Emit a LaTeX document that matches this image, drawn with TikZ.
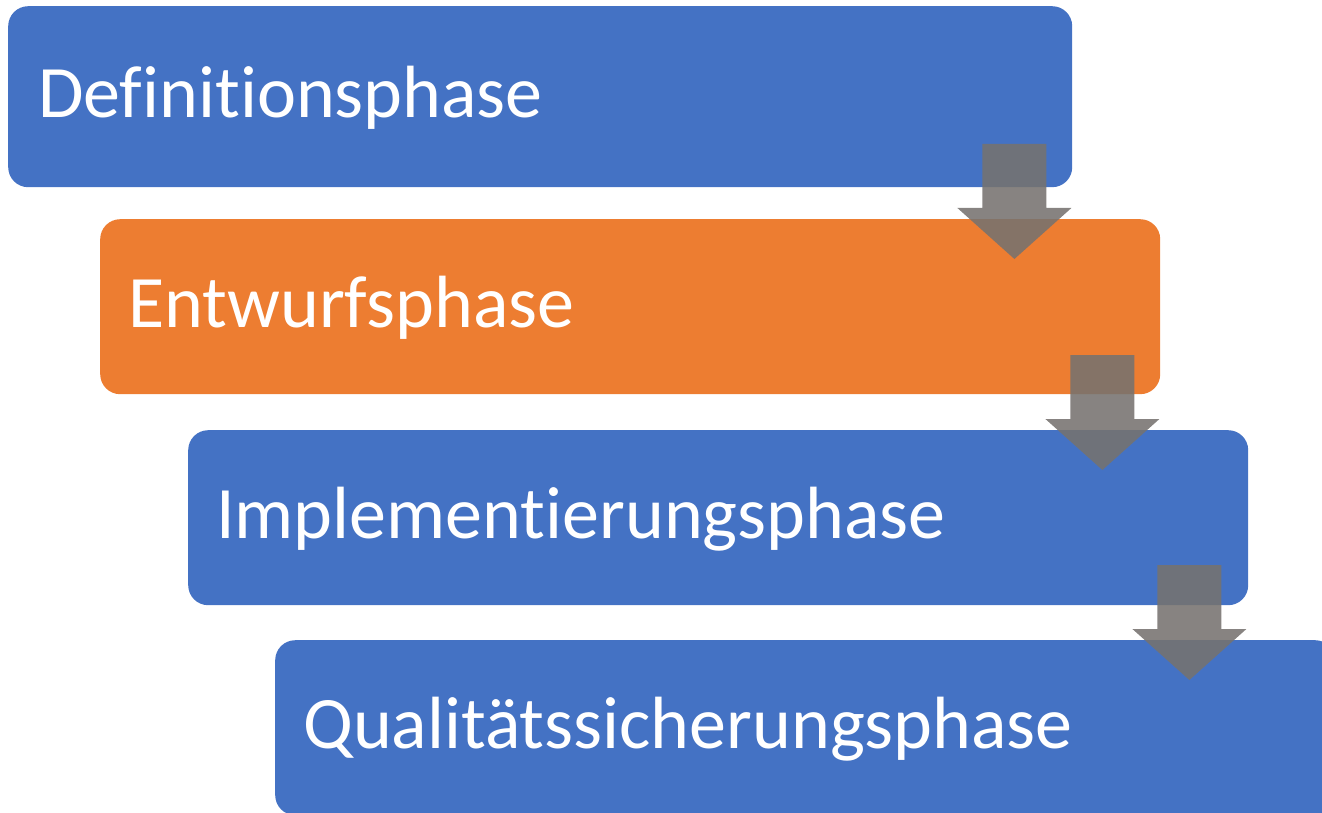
\documentclass[tikz,border=0pt]{standalone}
\usepackage{fontspec}
\setmainfont{Carlito}[Ligatures={NoCommon,NoRare,NoContextual}]
\usetikzlibrary{calc}

\definecolor{phaseblue}{RGB}{68,114,196}
\definecolor{phaseorange}{RGB}{237,125,49}
\definecolor{flowgray}{RGB}{118,114,111}
\newcommand{\phasefont}{\fontsize{74}{80}\selectfont}

\begin{document}
\begin{tikzpicture}[
x=1pt, y=1pt,
phase/.style={rectangle, rounded corners=20pt, anchor=north west, text=white,
  minimum width=1060pt, minimum height=175pt, inner xsep=28pt, inner ysep=0pt,
  text width=1004pt, align=left, text height=56pt, text depth=14pt, font=\phasefont},
flow/.style={fill=flowgray, fill opacity=0.88}]

\useasboundingbox (0,0) rectangle (1322,-813);
\clip (0,0) rectangle (1322,-813);

\node[phase, fill=phaseblue, minimum width=1064pt, minimum height=181pt] (def) at (8,-6) {Definitionsphase};
\node[phase, fill=phaseorange, minimum width=1058pt] (entw) at (100,-219) {Entwurfsphase};
\node[phase, fill=phaseblue, minimum width=1057pt] (impl) at (188,-430) {Implementierungsphase};
\node[phase, fill=phaseblue] (qual) at (275,-640) {Qualitätssicherungsphase};

% block arrows between the phases
\foreach \from/\to in {def/entw, entw/impl, impl/qual}
  \fill[flow] ($(\to.north east)+(-146,-40)$) -- ++(57,51) -- ++(-25,0) -- ++(0,64)
    -- ++(-64,0) -- ++(0,-64) -- ++(-25,0) -- cycle;
\end{tikzpicture}
\end{document}
